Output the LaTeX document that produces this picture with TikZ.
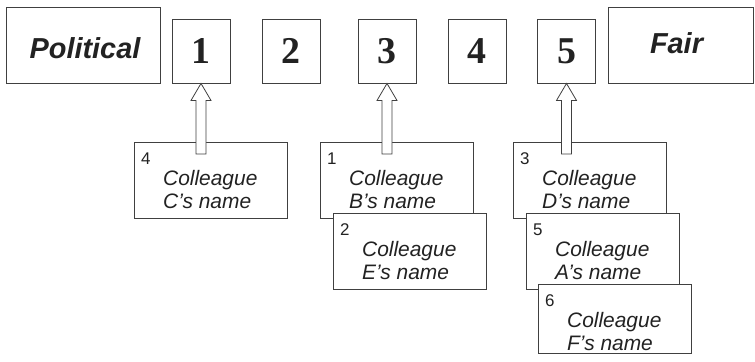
\documentclass[tikz,border=0pt]{standalone}
\usepackage{fontspec}
\setmainfont{Liberation Sans}
\newfontfamily\digitfont{Liberation Serif}
\usetikzlibrary{calc}

\definecolor{ink}{HTML}{222222}
\definecolor{edge}{HTML}{404040}

% one colleague card: [height], name, top-left x, top-left y, rank, second line
\newcommand\colleaguecard[6][76]{%
  \node[card, minimum height=#1bp] (#2) at (#3,#4) {};
  \node[rank] (#2-rank) at ($(#2.north west)+(7,22)$) {#5};
  \node[who] (#2-first) at ($(#2.north west)+(29,43)$) {Colleague};
  \node[who] (#2-second) at ($(#2.north west)+(29,66)$) {#6};
}

% hollow block arrow from a card up to a score box
\newcommand\pointerarrow[2]{%
  \draw[pointer]
    ($(#2.south |- #1.north)+(-5,12)$) -- ($(#2.south)+(-5,17)$)
    -- ($(#2.south)+(-10,17)$) -- (#2.south)
    -- ($(#2.south)+(10,17)$) -- ($(#2.south)+(5,17)$)
    -- ($(#2.south |- #1.north)+(5,12)$) -- cycle;
}

\begin{document}
\begin{tikzpicture}[x=1bp,y=-1bp,
  frame/.style={draw=edge, line width=0.9bp, fill=white, inner sep=0pt},
  endbox/.style={frame, minimum width=154bp, minimum height=76bp},
  scorebox/.style={frame, minimum width=58bp, minimum height=64bp,
    font=\digitfont\bfseries\fontsize{38}{38}\selectfont, text=ink},
  card/.style={frame, anchor=north west, minimum width=153bp},
  rank/.style={anchor=base west, inner sep=0pt, text=ink,
    font=\fontsize{17}{17}\selectfont},
  who/.style={anchor=base west, inner sep=0pt, text=ink,
    font=\itshape\fontsize{21}{21}\selectfont},
  pole/.style={anchor=base, inner sep=0pt, text=ink,
    font=\bfseries\itshape\fontsize{29}{29}\selectfont},
  pointer/.style={draw=edge, line width=0.8bp, fill=white, line join=miter}
]
\useasboundingbox (0,0) rectangle (755,361);

% end points of the scale
\node[endbox] (political) at (83,45) {};
\node[pole] (political-text) at (85,58) {Political};
\node[endbox, minimum width=145bp] (fair) at (680.5,45) {};
\node[pole] (fair-text) at (676.5,53) {Fair};

% score boxes
\node[scorebox] (s1) at (201,51) {1};
\node[scorebox] (s2) at (291,51) {2};
\node[scorebox] (s3) at (387,51) {3};
\node[scorebox] (s4) at (477,51) {4};
\node[scorebox] (s5) at (566.5,51) {5};

% colleague cards, later ones stacked over earlier ones
\colleaguecard{cardC}{134}{142}{4}{C’s name}
\colleaguecard{cardB}{320}{142}{1}{B’s name}
\colleaguecard{cardE}{333}{213}{2}{E’s name}
\colleaguecard{cardD}{513}{142}{3}{D’s name}
\colleaguecard{cardA}{526}{213}{5}{A’s name}
\colleaguecard[69]{cardF}{538}{284}{6}{F’s name}

% arrows from the cards to their scores
\pointerarrow{cardC}{s1}
\pointerarrow{cardB}{s3}
\pointerarrow{cardD}{s5}
\end{tikzpicture}
\end{document}
